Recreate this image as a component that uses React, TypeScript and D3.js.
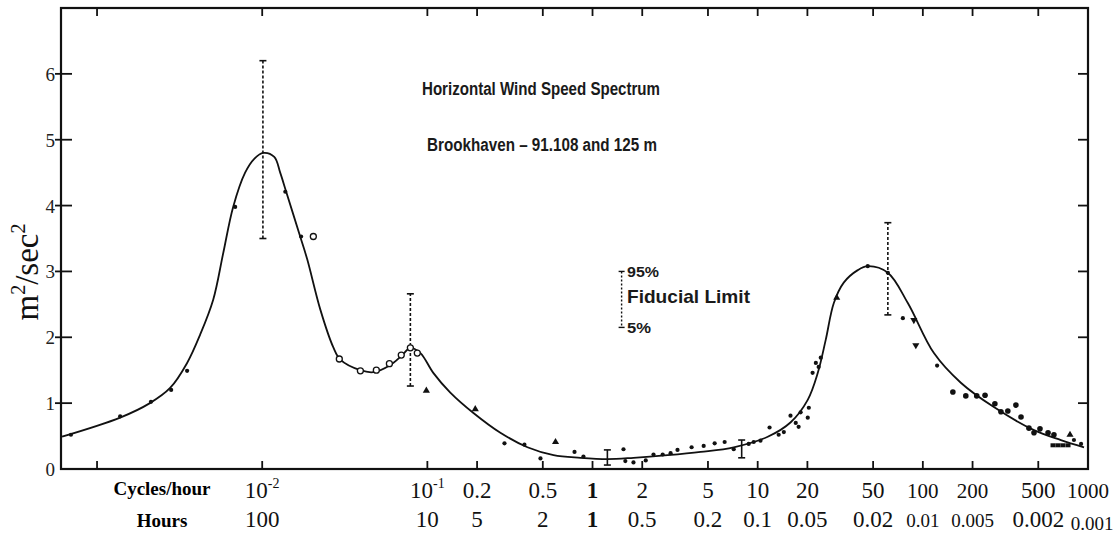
import React, { useEffect, useRef } from "react";
import * as d3 from "d3";

// fitted spectrum curve (cycles/hour, m^2/sec^2)
const curveFreq = [
  0.000614, 0.00138, 0.00209, 0.00277, 0.00351, 0.00421, 0.00505, 0.00581,
  0.00667, 0.00788, 0.00895, 0.01014, 0.01183, 0.01285, 0.01397, 0.01698,
  0.01875, 0.02249, 0.02692, 0.02972, 0.03926, 0.0471, 0.0597, 0.07047,
  0.07889, 0.09078, 0.1086, 0.1377, 0.1901, 0.2767, 0.4036, 0.5808, 0.8453,
  1.233, 1.77, 2.851, 4.519, 7.161, 11.51, 15.85, 20.09, 23.12, 25.82, 28.91,
  33.19, 40.36, 46.45, 61.38, 81.1, 116.7, 169.8, 269.2, 470.9, 685.5, 946.2,
];
const curveValue = [
  0.49, 0.78, 1.0, 1.23, 1.61, 2.04, 2.57, 3.28, 3.98, 4.5, 4.71, 4.8, 4.74,
  4.5, 4.21, 3.53, 3.18, 2.42, 1.85, 1.66, 1.5, 1.47, 1.58, 1.73, 1.84, 1.76,
  1.46, 1.16, 0.85, 0.55, 0.33, 0.21, 0.17, 0.15, 0.17, 0.21, 0.26, 0.33,
  0.49, 0.71, 1.05, 1.46, 1.96, 2.52, 2.83, 3.02, 3.08, 2.98, 2.52, 1.76,
  1.31, 0.94, 0.59, 0.44, 0.33,
];

// measured points
const pointFreq = [
  0.000695, 0.00138, 0.00212, 0.00281, 0.00351, 0.00686, 0.0138, 0.0172,
  0.0204, 0.0293, 0.0393, 0.0491, 0.0589, 0.0695, 0.0789, 0.0869, 0.0986,
  0.195, 0.293, 0.387, 0.484, 0.597, 0.778, 0.881, 1.54, 1.58, 1.77, 2.1,
  2.34, 2.66, 2.97, 3.27, 3.98, 4.71, 5.49, 6.31, 7.16, 8.82, 9.46, 10.4,
  11.8, 13.4, 14.4, 15.8, 17.0, 17.7, 18.2, 20.1, 20.4, 21.5, 22.5, 23.4,
  24.1, 30.1, 46.4, 61.4, 75.7, 88.2, 90.7, 122, 152, 182, 212, 238, 273,
  297, 327, 366, 393, 439, 471, 512, 573, 622, 614, 658, 705, 757, 778, 822,
  908,
];
const pointValue = [
  0.52, 0.8, 1.02, 1.2, 1.49, 3.98, 4.21, 3.53, 3.53, 1.67, 1.49, 1.5, 1.6,
  1.73, 1.84, 1.76, 1.19, 0.91, 0.39, 0.37, 0.16, 0.41, 0.26, 0.19, 0.3, 0.12,
  0.1, 0.13, 0.22, 0.22, 0.24, 0.29, 0.33, 0.35, 0.39, 0.41, 0.3, 0.38, 0.41,
  0.43, 0.63, 0.52, 0.56, 0.81, 0.7, 0.64, 0.86, 0.78, 0.93, 1.46, 1.61, 1.55,
  1.69, 2.6, 3.08, 2.98, 2.29, 2.26, 1.88, 1.57, 1.17, 1.11, 1.11, 1.12, 0.99,
  0.87, 0.88, 0.97, 0.79, 0.62, 0.55, 0.61, 0.55, 0.52, 0.36, 0.36, 0.36,
  0.36, 0.52, 0.44, 0.38,
];
const pointShape = [
  "dot", "dot", "dot", "dot", "dot", "dot", "dot", "dot",
  "open", "open", "open", "open", "open", "open", "open", "open", "tri",
  "tri", "dot", "dot", "dot", "tri", "dot", "dot", "dot", "dot", "dot", "dot",
  "dot", "dot", "dot", "dot", "dot", "dot", "dot", "dot", "dot", "dot", "dot",
  "dot", "dot", "dot", "dot", "dot", "dot", "dot", "dot", "dot", "dot", "dot",
  "dot", "dot", "dot", "tri", "dot", "dot", "dot", "tridown", "tridown", "dot",
  "big", "big", "big", "big", "big", "big", "big", "big", "big", "big", "big",
  "big", "big", "big", "sq", "sq", "sq", "sq", "tri", "dot", "dot",
];

// 5% - 95% fiducial limits
const errFreq = [0.0101, 0.0789, 1.23, 8.0, 61.4];
const errLow = [3.5, 1.26, 0.06, 0.17, 2.34];
const errHigh = [6.2, 2.66, 0.29, 0.44, 3.74];
const errDashed = [true, true, false, false, true];

const yTicks = [0, 1, 2, 3, 4, 5, 6];
const xTicks = [0.001, 0.01, 0.1, 0.2, 0.5, 1, 2, 5, 10, 20, 50, 100, 200, 500];
const labelFreq = [0.01, 0.1, 0.2, 0.5, 1, 2, 5, 10, 20, 50, 100, 200, 500, 1000];
const cycleLabels = ["10|-2", "10|-1", "0.2", "0.5", "1", "2", "5", "10", "20", "50", "100", "200", "500", "1000"];
const hourLabels = ["100", "10", "5", "2", "1", "0.5", "0.2", "0.1", "0.05", "0.02", "0.01", "0.005", "0.002", "0.001"];

export default function App() {
  const ref = useRef(null);
  const width = 1119;
  const height = 539;

  useEffect(() => {
    const svg = d3.select(ref.current);
    svg.selectAll("*").remove();

    const x = d3.scaleLog().domain([0.000605, 1000]).range([61, 1088]);
    const y = d3.scaleLinear().domain([0, 7]).range([469, 8]);
    const serif = "'Liberation Serif', 'Times New Roman', serif";
    const sans = "'Liberation Sans Narrow', 'Liberation Sans', sans-serif";

    // frame
    svg
      .append("rect")
      .attr("x", 61)
      .attr("y", 8)
      .attr("width", 1088 - 61)
      .attr("height", 469 - 8)
      .attr("fill", "none")
      .attr("stroke", "#111")
      .attr("stroke-width", 2.2);

    const g = svg.append("g").attr("stroke", "#111").attr("stroke-width", 1.8);
    for (const t of xTicks) {
      g.append("line").attr("x1", x(t)).attr("x2", x(t)).attr("y1", 469).attr("y2", 461);
      g.append("line").attr("x1", x(t)).attr("x2", x(t)).attr("y1", 8).attr("y2", 16);
    }
    for (const t of yTicks.slice(1)) {
      g.append("line").attr("x1", 55).attr("x2", 72).attr("y1", y(t)).attr("y2", y(t));
      g.append("line").attr("x1", 1088).attr("x2", 1078).attr("y1", y(t)).attr("y2", y(t));
    }

    svg
      .append("g")
      .selectAll("text")
      .data(yTicks)
      .join("text")
      .attr("x", 55)
      .attr("y", (d) => y(d) + 7)
      .attr("text-anchor", "end")
      .attr("font-family", serif)
      .attr("font-size", 19)
      .attr("fill", "#222")
      .text((d) => d);

    // y axis title
    const yt = svg
      .append("text")
      .attr("transform", "translate(38, 272) rotate(-90)")
      .attr("text-anchor", "middle")
      .attr("font-family", serif)
      .attr("font-size", 33)
      .attr("fill", "#111");
    yt.append("tspan").text("m");
    yt.append("tspan").attr("font-size", 20).attr("dy", -13).text("2");
    yt.append("tspan").attr("dy", 13).text("/sec");
    yt.append("tspan").attr("font-size", 20).attr("dy", -13).text("2");

    // bottom labels
    svg
      .append("text")
      .attr("x", 162)
      .attr("y", 495)
      .attr("text-anchor", "middle")
      .attr("font-family", serif)
      .attr("font-weight", "bold")
      .attr("font-size", 19)
      .text("Cycles/hour");
    svg
      .append("text")
      .attr("x", 162)
      .attr("y", 527)
      .attr("text-anchor", "middle")
      .attr("font-family", serif)
      .attr("font-weight", "bold")
      .attr("font-size", 19)
      .text("Hours");

    labelFreq.forEach((f, i) => {
      const parts = cycleLabels[i].split("|");
      const small = f >= 100 && f !== 500;
      const t = svg
        .append("text")
        .attr("x", x(f))
        .attr("y", 498)
        .attr("text-anchor", "middle")
        .attr("font-family", serif)
        .attr("font-size", small ? 21 : 23)
        .attr("font-weight", f === 1 ? "bold" : "normal")
        .attr("fill", "#111");
      t.append("tspan").text(parts[0]);
      if (parts[1]) t.append("tspan").attr("font-size", 14).attr("dy", -10).text(parts[1]);

      const hs = hourLabels[i].length >= 5 && hourLabels[i] !== "0.002";
      svg
        .append("text")
        .attr("x", x(f) + (f === 1000 ? 4 : 0))
        .attr("y", f === 1000 ? 530 : 527)
        .attr("text-anchor", "middle")
        .attr("font-family", serif)
        .attr("font-size", hs || f === 100 ? 19 : 23)
        .attr("font-weight", f === 1 ? "bold" : "normal")
        .attr("fill", "#111")
        .text(hourLabels[i]);
    });

    // error bars
    errFreq.forEach((f, i) => {
      const eb = svg.append("g").attr("stroke", "#111").attr("stroke-width", 1.6);
      eb.append("line")
        .attr("x1", x(f))
        .attr("x2", x(f))
        .attr("y1", y(errLow[i]))
        .attr("y2", y(errHigh[i]))
        .attr("stroke-dasharray", errDashed[i] ? "3,2" : null);
      for (const v of [errLow[i], errHigh[i]]) {
        eb.append("line")
          .attr("x1", x(f) - 3.5)
          .attr("x2", x(f) + 3.5)
          .attr("y1", y(v))
          .attr("y2", y(v));
      }
    });

    // curve
    const line = d3
      .line()
      .x((d) => x(d[0]))
      .y((d) => y(d[1]))
      .curve(d3.curveCatmullRom.alpha(0.5));
    svg
      .append("path")
      .attr("d", line(curveFreq.map((f, i) => [f, curveValue[i]])))
      .attr("fill", "none")
      .attr("stroke", "#111")
      .attr("stroke-width", 1.8);

    // points
    const pts = svg.append("g");
    pointFreq.forEach((f, i) => {
      const px = x(f);
      const py = y(pointValue[i]);
      const s = pointShape[i];
      if (s === "open") {
        pts.append("circle").attr("cx", px).attr("cy", py).attr("r", 3)
          .attr("fill", "#fff").attr("stroke", "#111").attr("stroke-width", 1.3);
      } else if (s === "tri" || s === "tridown") {
        pts.append("path")
          .attr("d", d3.symbol(d3.symbolTriangle, 22)())
          .attr("transform", `translate(${px},${py}) rotate(${s === "tridown" ? 180 : 0})`)
          .attr("fill", "#111");
      } else if (s === "sq") {
        pts.append("rect").attr("x", px - 2.5).attr("y", py - 2).attr("width", 5).attr("height", 4).attr("fill", "#111");
      } else {
        pts.append("circle").attr("cx", px).attr("cy", py).attr("r", s === "big" ? 2.8 : 2.1).attr("fill", "#111");
      }
    });

    // title
    svg
      .append("text")
      .attr("x", 422)
      .attr("y", 95)
      .attr("font-family", sans)
      .attr("font-weight", "bold")
      .attr("font-size", 18)
      .attr("textLength", 238)
      .attr("lengthAdjust", "spacingAndGlyphs")
      .attr("fill", "#1a1a1a")
      .text("Horizontal Wind Speed Spectrum");
    svg
      .append("text")
      .attr("x", 427)
      .attr("y", 151)
      .attr("font-family", sans)
      .attr("font-weight", "bold")
      .attr("font-size", 18)
      .attr("textLength", 230)
      .attr("lengthAdjust", "spacingAndGlyphs")
      .attr("fill", "#1a1a1a")
      .text("Brookhaven \u2013 91.108 and 125 m");

    // fiducial limit key
    const key = svg.append("g").attr("stroke", "#111").attr("stroke-width", 1.4);
    key.append("line").attr("x1", x(1.5)).attr("x2", x(1.5)).attr("y1", y(3.0)).attr("y2", y(2.15)).attr("stroke-dasharray", "2,2");
    for (const v of [3.0, 2.15]) {
      key.append("line").attr("x1", x(1.5) - 3).attr("x2", x(1.5) + 3).attr("y1", y(v)).attr("y2", y(v));
    }
    const keyText = [
      { t: "95%", yy: 277, fs: 14, w: 32 },
      { t: "Fiducial Limit", yy: 303, fs: 19, w: 123 },
      { t: "5%", yy: 333, fs: 14, w: 24 },
    ];
    for (const k of keyText) {
      svg
        .append("text")
        .attr("x", 627)
        .attr("y", k.yy)
        .attr("font-family", sans)
        .attr("font-weight", "bold")
        .attr("font-size", k.fs)
        .attr("textLength", k.w)
        .attr("lengthAdjust", "spacingAndGlyphs")
        .attr("fill", "#1a1a1a")
        .text(k.t);
    }
  }, []);

  return (
    <svg
      ref={ref}
      width={width}
      height={height}
      style={{ position: "absolute", left: 0, top: 0, background: "#fff" }}
    ></svg>
  );
}
